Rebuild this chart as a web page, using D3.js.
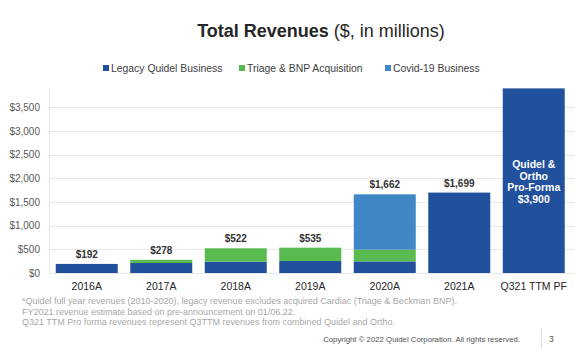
<!DOCTYPE html>
<html>
<head>
<meta charset="utf-8">
<script src="https://cdn.jsdelivr.net/npm/d3@7"></script>
<style>
  html, body { margin: 0; padding: 0; background: #fff; }
  svg { display: block; font-family: "Liberation Sans", Arial, sans-serif; }
</style>
</head>
<body>
<svg id="chart" width="575" height="355"></svg>
<script>
const categories = ["2016A", "2017A", "2018A", "2019A", "2020A", "2021A", "Q321 TTM PF"];
const legacy = [192, 211, 239, 253, 245, 1699, 3900];
const triage = [0, 67, 283, 282, 247, 0, 0];
const covid = [0, 0, 0, 0, 1170, 0, 0];
const totals = [192, 278, 522, 535, 1662, 1699, 3900];
const totalLabels = ["$192", "$278", "$522", "$535", "$1,662", "$1,699", ""];
const seriesNames = ["Legacy Quidel Business", "Triage & BNP Acquisition", "Covid-19 Business"];
const seriesColors = ["#21509d", "#58ba4f", "#3f88c5"];
const yTicks = [0, 500, 1000, 1500, 2000, 2500, 3000, 3500];
const proFormaLines = ["Quidel &", "Ortho", "Pro-Forma", "$3,900"];
const footnotes = [
  "*Quidel full year revenues (2010-2020), legacy revenue excludes acquired Cardiac (Triage & Beckman BNP).",
  "FY2021 revenue estimate based on pre-announcement on 01/06.22.",
  "Q321 TTM Pro forma revenues represent Q3TTM revenues from combined Quidel and Ortho."
];

const svg = d3.select("#chart");

// Title
const title = svg.append("text").attr("x", 321).attr("y", 37).attr("text-anchor", "middle")
  .attr("font-size", 18).attr("fill", "#262626");
title.append("tspan").attr("font-weight", "bold").text("Total Revenues");
title.append("tspan").text(" ($, in millions)");

// Legend
const legendX = [103, 239, 385];
seriesNames.forEach((name, i) => {
  svg.append("rect").attr("x", legendX[i]).attr("y", 65).attr("width", 6).attr("height", 6)
    .attr("fill", seriesColors[i]);
  svg.append("text").attr("x", legendX[i] + 8).attr("y", 71.8).attr("font-size", 10.4)
    .attr("fill", "#404040").text(name);
});

// Scales
const x = d3.scaleBand().domain(categories).range([49.5, 571]).paddingInner(0.168).paddingOuter(0.084);
const y = d3.scaleLinear().domain([0, 3500]).range([273, 107.33]);

// Gridlines
svg.append("g").selectAll("line").data(yTicks).join("line")
  .attr("x1", 49).attr("x2", 575)
  .attr("y1", d => Math.round(y(d)) + 0.5).attr("y2", d => Math.round(y(d)) + 0.5)
  .attr("stroke", "#e8e8e8").attr("stroke-width", 1);

// Y axis
const yAxis = svg.append("g").attr("transform", "translate(49,0)")
  .call(d3.axisLeft(y).tickValues(yTicks).tickSize(0).tickPadding(9).tickFormat(d => "$" + d3.format(",")(d)));
yAxis.select(".domain").remove();
yAxis.selectAll("text").attr("font-size", 10).attr("fill", "#595959").attr("font-family", "Liberation Sans, Arial, sans-serif");
svg.append("line").attr("x1", 49.5).attr("x2", 49.5).attr("y1", 88).attr("y2", 273)
  .attr("stroke", "#e8e8e8");

// Stacked bars
const rows = categories.map((c, i) => ({ cat: c, legacy: legacy[i], triage: triage[i], covid: covid[i] }));
const stack = d3.stack().keys(["legacy", "triage", "covid"])(rows);
svg.append("g").selectAll("g").data(stack).join("g")
  .attr("fill", (d, i) => seriesColors[i])
  .selectAll("rect").data(d => d.filter(s => s[1] > s[0])).join("rect")
  .attr("x", d => x(d.data.cat)).attr("width", x.bandwidth())
  .attr("y", d => y(d[1])).attr("height", d => y(d[0]) - y(d[1]));

// Total labels
svg.append("g").selectAll("text").data(categories.filter((c, i) => totalLabels[i])).join("text")
  .attr("x", c => x(c) + x.bandwidth() / 2)
  .attr("y", c => y(totals[categories.indexOf(c)]) - 6)
  .attr("text-anchor", "middle").attr("font-size", 10).attr("font-weight", "bold").attr("fill", "#333")
  .text(c => totalLabels[categories.indexOf(c)]);

// Pro-forma text inside bar
const pfCat = categories[6];
svg.append("g").selectAll("text").data(proFormaLines).join("text")
  .attr("x", x(pfCat) + x.bandwidth() / 2)
  .attr("y", (d, i) => 167.8 + i * 11.7)
  .attr("text-anchor", "middle").attr("font-size", 10.5).attr("font-weight", "bold").attr("fill", "#fff")
  .text(d => d);

// X axis labels
const xAxis = svg.append("g").attr("transform", "translate(0,273)")
  .call(d3.axisBottom(x).tickSize(0).tickPadding(10));
xAxis.select(".domain").remove();
xAxis.selectAll("text").attr("font-size", 10.5).attr("fill", "#262626").attr("font-family", "Liberation Sans, Arial, sans-serif");

// Footnotes
svg.append("g").selectAll("text").data(footnotes).join("text")
  .attr("x", 22).attr("y", (d, i) => 304 + i * 10.7)
  .attr("font-size", 9).attr("fill", "#a8a8a8").text(d => d);

// Copyright
svg.append("text").attr("x", 520).attr("y", 341.5).attr("text-anchor", "end")
  .attr("font-size", 7.8).attr("fill", "#505050")
  .text("Copyright \u00a9 2022 Quidel Corporation. All rights reserved.");
svg.append("line").attr("x1", 541.5).attr("x2", 541.5).attr("y1", 328).attr("y2", 348)
  .attr("stroke", "#e0e0e0");
svg.append("text").attr("x", 549).attr("y", 341.5).attr("font-size", 8.5).attr("fill", "#505050").text("3");
</script>
</body>
</html>
